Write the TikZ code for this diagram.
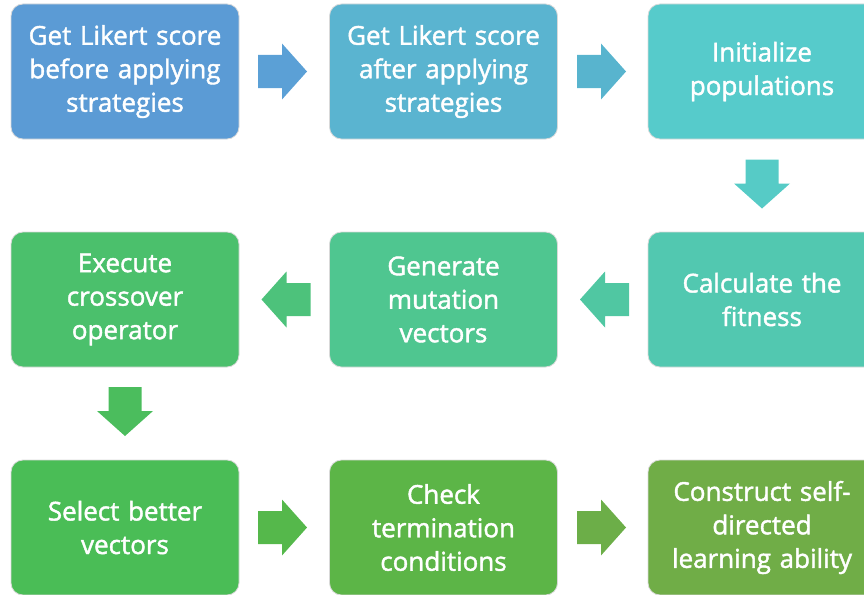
\documentclass[tikz,border=0pt]{standalone}
\usepackage{fontspec}
\newfontfamily\boxfont{Open Sans}[FakeBold=1.6]
\definecolor{b1}{HTML}{5B9BD5}
\definecolor{b2}{HTML}{5AB4D0}
\definecolor{b3}{HTML}{56CBCB}
\definecolor{b4}{HTML}{52C8B0}
\definecolor{b5}{HTML}{4FC690}
\definecolor{b6}{HTML}{4BC06C}
\definecolor{b7}{HTML}{4ABD56}
\definecolor{b8}{HTML}{5CB547}
\definecolor{b9}{HTML}{70AD47}
\definecolor{a1}{HTML}{5BA0D6}
\definecolor{a2}{HTML}{58B4CE}
\definecolor{a3}{HTML}{56CBC6}
\definecolor{a4}{HTML}{50C7A2}
\definecolor{a5}{HTML}{4DC27B}
\definecolor{a6}{HTML}{4BBD5D}
\definecolor{a7}{HTML}{55B84B}
\definecolor{a8}{HTML}{6CAE48}
\definecolor{edgegray}{HTML}{D9D9D9}
\tikzset{
  stepbox/.style={rounded corners=12pt, draw=edgegray, line width=0.8pt,
    minimum width=228pt, minimum height=135pt, text width=226pt, align=center,
    inner sep=0pt, text=white, font=\boxfont\fontsize{26}{33.5}\selectfont},
  blockarrow/.pic={\path[pic actions] (-24.5,-16.5) -- (-0.5,-16.5) -- (-0.5,-28)
      -- (24.5,0) -- (-0.5,28) -- (-0.5,16.5) -- (-24.5,16.5) -- cycle;},
}
\begin{document}
\begin{tikzpicture}[x=1pt,y=-1pt]
\useasboundingbox (0,0) rectangle (864,594);
\clip (0,0) rectangle (864,594);
\node[stepbox, fill=b1] (n1) at (125,71.5) {Get Likert score\\before applying\\strategies};
\node[stepbox, fill=b2] (n2) at (443.5,71.5) {Get Likert score\\after applying\\strategies};
\node[stepbox, fill=b3] (n3) at (762,71.5) {Initialize\\populations};
\node[stepbox, fill=b4] (n4) at (762,299.5) {Calculate the\\fitness};
\node[stepbox, fill=b5] (n5) at (443.5,299.5) {Generate\\mutation\\vectors};
\node[stepbox, fill=b6] (n6) at (125,299.5) {Execute\\crossover\\operator};
\node[stepbox, fill=b7] (n7) at (125,527.5) {Select better\\vectors};
\node[stepbox, fill=b8] (n8) at (443.5,527.5) {Check\\termination\\conditions};
\node[stepbox, fill=b9] (n9) at (762,527.5) {Construct self-\\directed\\learning ability};
\pic[fill=a1] (r1) at (282.5,71.5) {blockarrow};
\pic[fill=a2] (r2) at (601.5,71.5) {blockarrow};
\pic[fill=a3, rotate=-90] (d1) at (762,184) {blockarrow};
\pic[fill=a4, rotate=180] (l1) at (604.5,299.5) {blockarrow};
\pic[fill=a5, rotate=180] (l2) at (286,299.5) {blockarrow};
\pic[fill=a6, rotate=-90] (d2) at (125,411.5) {blockarrow};
\pic[fill=a7] (r3) at (282.5,527.5) {blockarrow};
\pic[fill=a8] (r4) at (601.5,527.5) {blockarrow};
\end{tikzpicture}
\end{document}
